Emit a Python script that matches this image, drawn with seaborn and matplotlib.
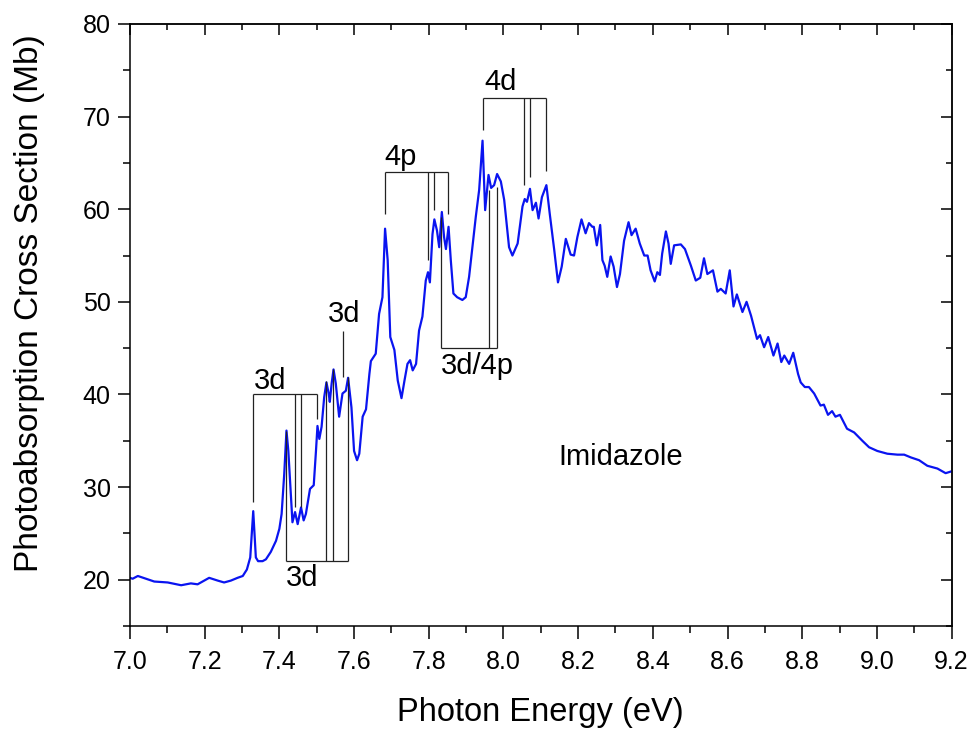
import numpy as np
import pandas as pd
import seaborn as sns
import matplotlib.pyplot as plt
from matplotlib.ticker import MultipleLocator

# Spectrum
energy = [7.000, 7.007, 7.021, 7.043, 7.065, 7.101, 7.137, 7.163, 7.181, 7.199,
          7.212, 7.235, 7.252, 7.270, 7.288, 7.302, 7.313, 7.322, 7.330, 7.337,
          7.343, 7.355, 7.364, 7.377, 7.391, 7.400, 7.406, 7.413, 7.419, 7.424,
          7.431, 7.435, 7.442, 7.449, 7.458, 7.465, 7.471, 7.482, 7.492, 7.498,
          7.502, 7.507, 7.513, 7.520, 7.526, 7.532, 7.535, 7.540, 7.545, 7.551,
          7.560, 7.569, 7.578, 7.584, 7.593, 7.600, 7.608, 7.614, 7.623, 7.632,
          7.641, 7.645, 7.658, 7.667, 7.676, 7.683, 7.690, 7.697, 7.708, 7.717,
          7.727, 7.735, 7.743, 7.750, 7.757, 7.766, 7.774, 7.783, 7.792, 7.798,
          7.803, 7.810, 7.815, 7.822, 7.828, 7.835, 7.841, 7.846, 7.853, 7.859,
          7.866, 7.876, 7.890, 7.899, 7.908, 7.917, 7.926, 7.935, 7.944, 7.951,
          7.960, 7.967, 7.975, 7.983, 7.993, 8.002, 8.015, 8.024, 8.038, 8.051,
          8.057, 8.063, 8.071, 8.078, 8.087, 8.094, 8.103, 8.115, 8.124, 8.136,
          8.146, 8.156, 8.167, 8.180, 8.189, 8.198, 8.209, 8.220, 8.229, 8.238,
          8.242, 8.250, 8.259, 8.265, 8.271, 8.278, 8.287, 8.295, 8.304, 8.312,
          8.323, 8.335, 8.343, 8.354, 8.365, 8.377, 8.386, 8.394, 8.405, 8.412,
          8.419, 8.425, 8.435, 8.442, 8.448, 8.457, 8.475, 8.486, 8.502, 8.515,
          8.527, 8.537, 8.546, 8.561, 8.573, 8.582, 8.595, 8.606, 8.616, 8.625,
          8.640, 8.651, 8.663, 8.679, 8.687, 8.698, 8.709, 8.723, 8.734, 8.744,
          8.752, 8.765, 8.776, 8.789, 8.796, 8.807, 8.818, 8.832, 8.849, 8.858,
          8.869, 8.880, 8.889, 8.901, 8.920, 8.939, 8.961, 8.979, 9.001, 9.028,
          9.055, 9.073, 9.091, 9.113, 9.135, 9.162, 9.184, 9.200]
cross_section = [20.2, 20.1, 20.4, 20.1, 19.8, 19.7, 19.4, 19.6, 19.5, 19.9,
                 20.2, 19.9, 19.7, 19.9, 20.2, 20.4, 21.1, 22.4, 27.4, 22.4,
                 22.0, 22.0, 22.2, 23.0, 24.2, 25.5, 27.1, 31.4, 36.1, 33.9,
                 28.9, 26.2, 27.3, 26.0, 27.8, 26.4, 27.1, 29.8, 30.2, 33.9,
                 36.6, 35.2, 36.5, 39.7, 41.3, 40.1, 39.2, 41.2, 42.7, 41.2,
                 37.6, 40.1, 40.4, 41.8, 38.6, 33.9, 32.9, 33.6, 37.6, 38.4,
                 42.2, 43.6, 44.4, 48.7, 50.5, 57.9, 54.5, 46.2, 44.8, 41.5,
                 39.6, 41.5, 43.3, 43.7, 42.6, 43.3, 46.9, 48.4, 52.3, 53.2,
                 52.1, 57.3, 58.9, 57.7, 55.9, 59.7, 57.0, 55.7, 58.1, 54.5,
                 50.9, 50.5, 50.2, 50.5, 52.7, 55.9, 59.2, 62.1, 67.4, 59.9,
                 63.7, 62.3, 62.6, 63.8, 63.0, 61.0, 55.9, 55.0, 56.3, 60.3,
                 61.1, 60.8, 62.2, 59.9, 60.7, 59.0, 61.3, 62.6, 59.5, 55.6,
                 52.1, 53.8, 56.8, 55.1, 55.0, 57.0, 58.9, 57.4, 58.5, 58.1,
                 58.1, 56.1, 58.3, 54.5, 53.9, 52.7, 54.9, 53.8, 51.6, 53.0,
                 56.6, 58.6, 57.2, 57.9, 56.3, 55.0, 55.0, 53.4, 52.2, 53.2,
                 52.9, 55.2, 57.6, 56.3, 54.1, 56.1, 56.2, 55.7, 53.9, 52.3,
                 52.6, 54.7, 53.0, 53.4, 51.1, 51.4, 50.9, 53.4, 49.5, 50.8,
                 48.9, 50.0, 48.5, 46.0, 46.4, 45.1, 46.2, 44.2, 45.5, 43.5,
                 44.2, 43.3, 44.5, 42.2, 41.3, 40.8, 40.8, 40.1, 38.8, 38.9,
                 37.8, 38.2, 37.6, 37.8, 36.3, 35.9, 35.0, 34.3, 33.9, 33.6,
                 33.5, 33.5, 33.2, 32.9, 32.3, 32.0, 31.5, 31.7]

# Assignment brackets: label, bar level, line positions, line end values, label position
bracket_labels = ['3d', '3d', '4p', '3d/4p', '4d']
bracket_levels = [40.0, 22.0, 64.0, 45.0, 72.0]
bracket_x = [[7.330, 7.441, 7.457, 7.500],
             [7.419, 7.526, 7.544, 7.583],
             [7.683, 7.797, 7.813, 7.852],
             [7.834, 7.962, 7.982],
             [7.944, 8.055, 8.071, 8.115]]
bracket_ends = [[28.4, 27.8, 27.8, 37.4],
                [36.1, 41.5, 42.8, 41.9],
                [59.5, 54.5, 59.9, 59.5],
                [59.2, 62.1, 62.4],
                [68.5, 62.6, 63.5, 64.1]]
bracket_text_xy = [(7.376, 41.4), (7.462, 20.2), (7.725, 65.6), (7.931, 43.1), (7.993, 73.7)]

# single 3d line
single_x = 7.571
single_span = (41.9, 46.9)
single_text_xy = (7.573, 48.7)

df = pd.DataFrame({'Photon Energy (eV)': energy, 'Cross section': cross_section})

sns.set_style('ticks')
plt.rcParams['font.family'] = ['Liberation Sans', 'DejaVu Sans']
plt.rcParams.update({'text.color': 'black', 'axes.labelcolor': 'black',
                     'xtick.color': 'black', 'ytick.color': 'black'})

fig = plt.figure(figsize=(9.73, 7.29), dpi=100)
ax = fig.add_axes([0.1336, 0.1413, 0.8444, 0.8258])

sns.lineplot(data=df, x='Photon Energy (eV)', y='Cross section', color='#0a14f0',
             linewidth=1.6, ax=ax, estimator=None, sort=False)

line_kw = dict(color='#222222', linewidth=0.9)
for lab, lev, xs, ends, (tx, ty) in zip(bracket_labels, bracket_levels, bracket_x,
                                        bracket_ends, bracket_text_xy):
    ax.hlines(lev, min(xs), max(xs), **line_kw)
    for xv, ev in zip(xs, ends):
        ax.vlines(xv, min(lev, ev), max(lev, ev), **line_kw)
    ax.text(tx, ty, lab, fontsize=21, ha='center', va='center')

ax.vlines(single_x, single_span[0], single_span[1], **line_kw)
ax.text(single_text_xy[0], single_text_xy[1], '3d', fontsize=21, ha='center', va='center')

ax.text(8.313, 33.2, 'Imidazole', fontsize=21, ha='center', va='center')

ax.set_xlim(7.0, 9.2)
ax.set_ylim(15, 80)
ax.xaxis.set_major_locator(MultipleLocator(0.2))
ax.xaxis.set_minor_locator(MultipleLocator(0.1))
ax.yaxis.set_major_locator(MultipleLocator(10))
ax.yaxis.set_minor_locator(MultipleLocator(5))
ax.xaxis.set_major_formatter(plt.FormatStrFormatter('%.1f'))
ax.tick_params(which='major', direction='out', length=9, width=1.1, labelsize=18)
ax.tick_params(axis='x', which='major', pad=8)
ax.tick_params(axis='y', which='major', pad=5)
ax.tick_params(which='minor', direction='out', length=5, width=1.1)
ax.set_xlabel('Photon Energy (eV)', fontsize=23.5, labelpad=17)
ax.set_ylabel('Photoabsorption Cross Section (Mb)', fontsize=24)
ax.yaxis.set_label_coords(-0.104, 0.537)
for s in ax.spines.values():
    s.set_linewidth(1.1)
    s.set_color('black')

# inward ticks on top and right, no labels
top = ax.secondary_xaxis('top')
top.xaxis.set_major_locator(MultipleLocator(0.2))
top.xaxis.set_minor_locator(MultipleLocator(0.1))
top.tick_params(which='major', direction='in', length=8, width=1.1, labeltop=False)
top.tick_params(which='minor', direction='in', length=4.5, width=1.1)
right = ax.secondary_yaxis('right')
right.yaxis.set_major_locator(MultipleLocator(10))
right.yaxis.set_minor_locator(MultipleLocator(5))
right.tick_params(which='major', direction='in', length=8, width=1.1, labelright=False)
right.tick_params(which='minor', direction='in', length=4.5, width=1.1)
for sec in (top, right):
    for s in sec.spines.values():
        s.set_linewidth(1.1)

plt.savefig('out.png', dpi=100)
